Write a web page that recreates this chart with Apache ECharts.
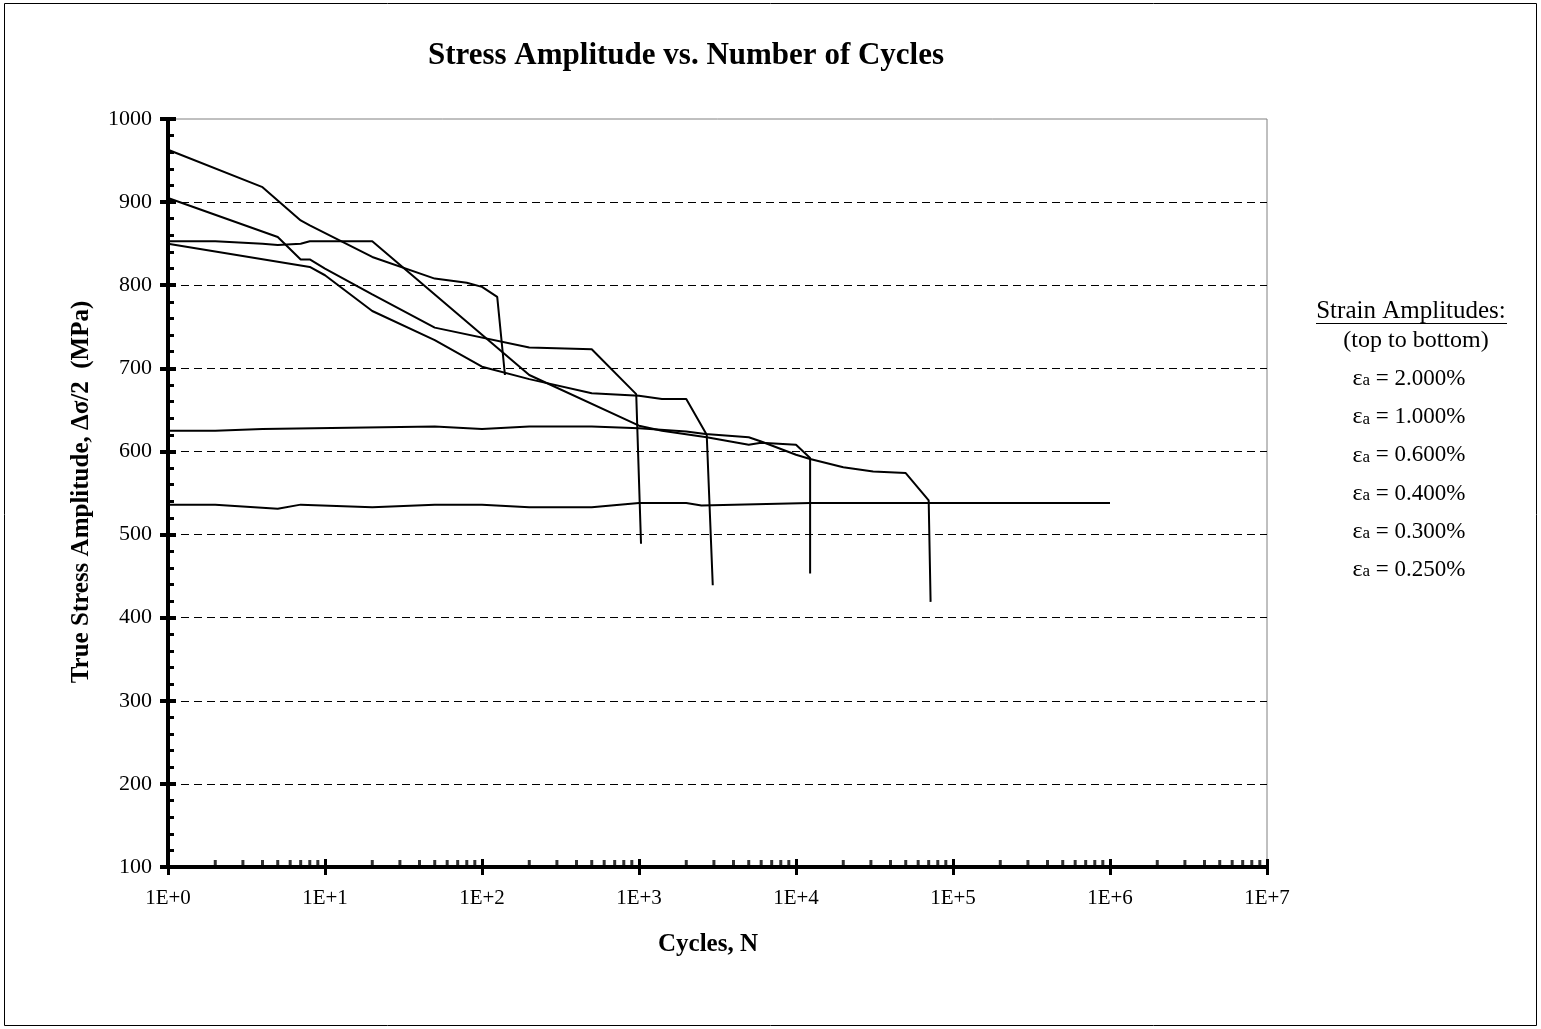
<!DOCTYPE html>
<html>
<head>
<meta charset="utf-8">
<script src="https://cdn.jsdelivr.net/npm/echarts@6/dist/echarts.min.js"></script>
<style>
html,body{margin:0;padding:0;background:#fff;}
#chart{width:1541px;height:1029px;}
</style>
</head>
<body>
<div id="chart"></div>
<script>
// ---- Data ----
const seriesNames = ['εa = 2.000%', 'εa = 1.000%', 'εa = 0.600%', 'εa = 0.400%', 'εa = 0.300%', 'εa = 0.250%'];

const cycles200 = [1, 4, 7, 8, 20, 50, 80, 100, 125, 140];
const stress200 = [963, 918, 878, 872, 834, 808, 803, 798, 786, 692];

const cycles100 = [1, 5, 7, 8, 10, 20, 50, 200, 500, 960, 1030];
const stress100 = [905, 858, 831, 831, 820, 789, 749, 725, 723, 669, 489];

const cycles060 = [1, 8, 10, 20, 50, 100, 200, 500, 1000, 1400, 2000, 2700, 2950];
const stress060 = [850, 822, 812, 769, 734, 702, 687, 670, 667, 663, 663, 620, 439];

const cycles040 = [1, 2, 4, 5, 7, 8, 20, 200, 1000, 1400, 2700, 5000, 6000, 10000, 12300, 12300];
const stress040 = [853, 853, 850, 848.5, 850, 853, 853, 692, 631, 625, 617, 608, 610.5, 608, 592, 453];

const cycles030 = [1, 2, 4, 50, 100, 200, 500, 1000, 2000, 2650, 5000, 6000, 10000, 12300, 20000, 31000, 50000, 70000, 72000];
const stress030 = [625, 625, 627, 630, 627, 630, 630, 628, 624, 621, 617, 612, 596, 591, 581, 576, 574, 541, 419];

const cycles025 = [1, 2, 5, 7, 20, 50, 100, 200, 500, 1000, 2000, 2500, 12300, 1000000];
const stress025 = [536, 536, 531, 536, 533, 536, 536, 533, 533, 538, 538, 535, 538, 538];

const legendLines = ['Strain Amplitudes:', '(top to bottom)'];
const xDecades = [1, 10, 100, 1000, 10000, 100000, 1000000];
const minorMultipliers = [2, 3, 4, 5, 6, 7, 8, 9];

// ---- Build options ----
function pairs(xs, ys) { return xs.map((x, i) => [x, ys[i]]); }
const allCycles = [cycles200, cycles100, cycles060, cycles040, cycles030, cycles025];
const allStress = [stress200, stress100, stress060, stress040, stress030, stress025];

const minorTickData = [];
xDecades.forEach(d => minorMultipliers.forEach(m => minorTickData.push([d * m, 100])));

const serif = '"Liberation Serif", "Times New Roman", serif';

const lineSeries = allCycles.map((xs, i) => ({
  name: seriesNames[i],
  type: 'line',
  data: pairs(xs, allStress[i]),
  symbol: 'none',
  lineStyle: { color: '#000', width: 2 },
  itemStyle: { color: '#000' },
  z: 3,
  animation: false
}));

const chart = echarts.init(document.getElementById('chart'), null, { renderer: 'canvas' });

const xAxisBase = {
  type: 'log', logBase: 10, min: 1, max: 10000000, position: 'bottom',
  splitLine: { show: false },
  axisLine: { show: true, lineStyle: { color: '#000', width: 4 } }
};
const yAxisBase = {
  type: 'value', min: 100, max: 1000, interval: 100, position: 'left',
  axisLine: { show: true, lineStyle: { color: '#000', width: 4 } }
};

const legendY0 = 379, legendStep = 38.2;
const graphics = [
  { type: 'rect', shape: { x: 4.5, y: 3.5, width: 1532, height: 1022 }, style: { fill: 'none', stroke: '#000', lineWidth: 1 }, z: 0 },
  { type: 'text', x: 686, y: 56, style: { text: 'Stress Amplitude vs. Number of Cycles', font: 'bold 31px ' + serif, fill: '#000', align: 'center', verticalAlign: 'middle' } },
  { type: 'text', x: 708, y: 945, style: { text: 'Cycles, N', font: 'bold 25px ' + serif, fill: '#000', align: 'center', verticalAlign: 'middle' } },
  { type: 'text', x: 82, y: 492, rotation: Math.PI / 2, style: { text: 'True Stress Amplitude, Δσ/2  (MPa)', font: 'bold 25px ' + serif, fill: '#000', align: 'center', verticalAlign: 'middle' } },
  { type: 'text', x: 1411, y: 311, style: { text: legendLines[0], font: '25px ' + serif, fill: '#000', align: 'center', verticalAlign: 'middle' } },
  { type: 'line', shape: { x1: 1316, y1: 323.5, x2: 1507, y2: 323.5 }, style: { stroke: '#000', lineWidth: 1 } },
  { type: 'text', x: 1416, y: 341, style: { text: legendLines[1], font: '24px ' + serif, fill: '#000', align: 'center', verticalAlign: 'middle' } }
];
seriesNames.forEach((nm, i) => {
  graphics.push({
    type: 'text', x: 1409, y: legendY0 + i * legendStep,
    style: {
      text: '{e|ε}{s|a}{t|' + nm.replace('εa', '') + '}',
      align: 'center', verticalAlign: 'middle', fill: '#000',
      rich: {
        e: { fontFamily: serif, fontSize: 24, fill: '#000' },
        s: { fontFamily: serif, fontSize: 17, fill: '#000', padding: [4, 0, 0, 0] },
        t: { fontFamily: serif, fontSize: 23, fill: '#000' }
      }
    }
  });
});

chart.setOption({
  backgroundColor: '#fff',
  animation: false,
  grid: { left: 168, top: 119, width: 1099, height: 748, show: true, borderColor: '#808080', borderWidth: 1, backgroundColor: 'transparent', containLabel: false },
  xAxis: [
    Object.assign({}, xAxisBase, {
      axisTick: { show: true, inside: false, length: 8, lineStyle: { color: '#000', width: 3 } },
      axisLabel: {
        show: true, margin: 21, color: '#000', fontFamily: serif, fontSize: 21,
        formatter: v => '1E+' + Math.round(Math.log10(v))
      }
    }),
    Object.assign({}, xAxisBase, {
      axisTick: { show: true, inside: true, length: 8, lineStyle: { color: '#000', width: 3 } },
      axisLabel: { show: false }
    })
  ],
  yAxis: [
    Object.assign({}, yAxisBase, {
      axisTick: { show: true, inside: false, length: 8, lineStyle: { color: '#000', width: 4 } },
      axisLabel: { show: true, margin: 16, color: '#000', fontFamily: serif, fontSize: 22, formatter: v => String(v) },
      splitLine: { show: true, showMinLine: false, showMaxLine: false, lineStyle: { color: '#000', width: 1, type: [8, 5] } }
    }),
    Object.assign({}, yAxisBase, {
      axisTick: { show: true, inside: true, length: 8, lineStyle: { color: '#000', width: 4 } },
      minorTick: { show: true, splitNumber: 5, length: 6, lineStyle: { color: '#000', width: 3 } },
      axisLabel: { show: false },
      splitLine: { show: false }
    })
  ],
  graphic: graphics,
  series: lineSeries.concat([{
    name: 'minorTicks',
    type: 'scatter',
    data: minorTickData,
    symbol: 'rect',
    symbolSize: [3, 7],
    symbolOffset: [0, -3.5],
    itemStyle: { color: '#000' },
    silent: true,
    clip: false,
    z: 4
  }])
});
</script>
</body>
</html>
